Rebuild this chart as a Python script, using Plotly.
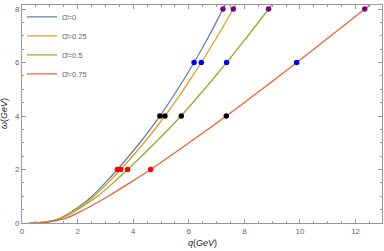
import plotly.graph_objects as go

# Curve samples: q values at each omega level, per Omega-bar
omega_levels = [0, 0.03, 0.15, 0.4, 0.7, 1.0, 1.5, 2, 3, 4, 5, 6, 7, 8, 8.4]
q_omega0 = [0.25, 0.80, 1.30, 1.75, 2.17, 2.52, 2.99, 3.43, 4.24, 4.96, 5.60, 6.19, 6.73, 7.23, 7.43]
q_omega025 = [0.25, 0.80, 1.32, 1.78, 2.22, 2.59, 3.09, 3.55, 4.39, 5.14, 5.82, 6.45, 7.04, 7.60, 7.82]
q_omega05 = [0.28, 0.82, 1.36, 1.85, 2.30, 2.72, 3.28, 3.80, 4.79, 5.72, 6.56, 7.36, 8.13, 8.87, 9.16]
q_omega075 = [0.40, 0.95, 1.50, 2.05, 2.60, 3.10, 3.88, 4.63, 6.01, 7.35, 8.63, 9.88, 11.11, 12.33, 12.82]

labels = ["Ω̄=0", "Ω̄=0.25", "Ω̄=0.5", "Ω̄=0.75"]
curve_colors = ["#5E81B5", "#E19C24", "#8FB032", "#EB6235"]

# Marked points: q at omega = 2, 4, 6, 8 for each Omega-bar
point_omegas = [2, 4, 6, 8]
point_colors = ["#FF0000", "#000000", "#0000FF", "#800080"]
q_points = {
    2: [3.43, 3.55, 3.80, 4.63],
    4: [4.96, 5.14, 5.73, 7.35],
    6: [6.19, 6.45, 7.36, 9.88],
    8: [7.23, 7.60, 8.87, 12.33],
}

x_tick_vals = [0, 2, 4, 6, 8, 10, 12]
y_tick_vals = [0, 2, 4, 6, 8]

fig = go.Figure()
for qs, lab, col in zip([q_omega0, q_omega025, q_omega05, q_omega075], labels, curve_colors):
    fig.add_trace(go.Scatter(x=qs, y=omega_levels, mode="lines", name=lab,
                             line=dict(color=col, width=1.3, shape="spline", smoothing=0.7)))

for w, col in zip(point_omegas, point_colors):
    fig.add_trace(go.Scatter(x=q_points[w], y=[w] * len(q_points[w]), mode="markers",
                             marker=dict(color=col, size=5.5), showlegend=False))

axis_common = dict(
    showgrid=False, zeroline=False, showline=True, linecolor="#999999", linewidth=1,
    mirror="allticks", ticks="inside", ticklen=4, tickcolor="#999999", tickwidth=1,
    tickfont=dict(size=8, color="#666666", family="Liberation Sans"),
    minor=dict(dtick=0.5, ticks="inside", ticklen=2, tickcolor="#999999"),
    automargin=False,
)

fig.update_layout(
    width=384, height=251,
    margin=dict(l=22, r=2, t=3, b=28),
    paper_bgcolor="white", plot_bgcolor="white",
    font=dict(family="Liberation Sans", size=8, color="#555555"),
    xaxis=dict(range=[0, 12.95], tickvals=x_tick_vals, **axis_common),
    yaxis=dict(range=[0, 8.15], tickvals=y_tick_vals, **axis_common),
    legend=dict(x=0.0, y=1.012, xanchor="left", yanchor="top", bgcolor="rgba(0,0,0,0)",
                font=dict(size=7.5, color="#666666"), itemwidth=30, tracegroupgap=4),
    annotations=[
        dict(text="<i>q</i>(<i>GeV</i>)", xref="paper", yref="paper", x=0.5, y=-0.058,
             xanchor="center", yanchor="top", showarrow=False,
             font=dict(size=9, color="#222222")),
        dict(text="<i>ω</i>(<i>GeV</i>)", xref="paper", yref="paper", x=-0.05, y=0.5,
             xanchor="center", yanchor="middle", textangle=-90, showarrow=False,
             font=dict(size=9, color="#222222")),
    ],
)

fig.write_html("out.html", config={"displayModeBar": False},
               post_script="document.body.style.margin='0';document.body.style.padding='0';")
